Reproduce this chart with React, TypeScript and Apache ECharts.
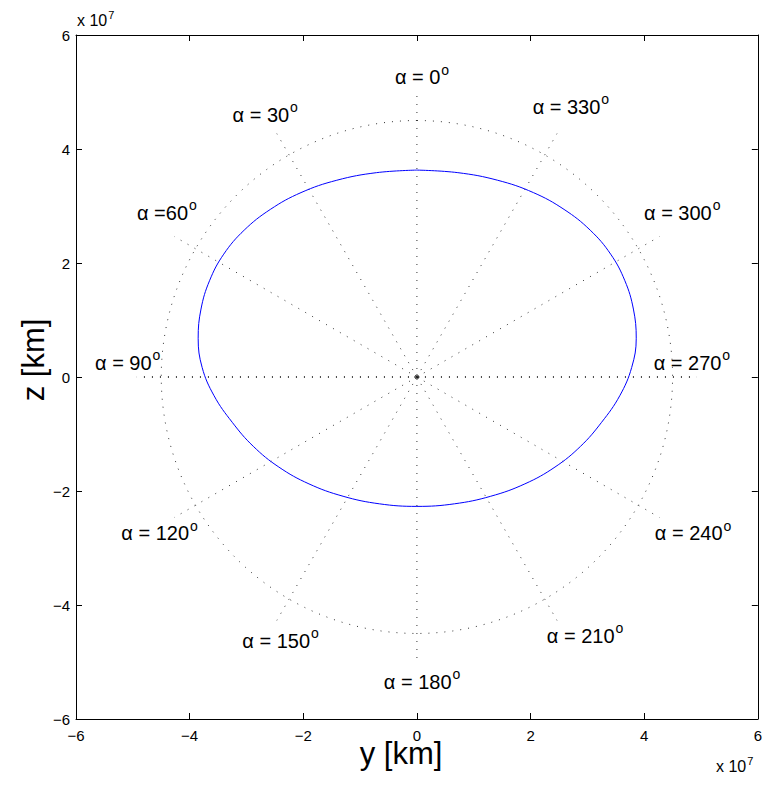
import React, { useEffect, useRef } from "react";
import * as echarts from "echarts";

// Orbit trace (units of 1e7 km) (right half, then left half)
const orbitRightY = [0, 0.72, 1.42, 2.05, 2.59, 3.05, 3.41, 3.66, 3.81, 3.86, 3.78, 3.57, 3.25, 2.88, 2.43, 1.9, 1.3, 0.66, 0];
const orbitRightZ = [3.63, 3.585, 3.452, 3.235, 2.94, 2.576, 2.155, 1.689, 1.192, 0.68, 0.168, -0.329, -0.795, -1.216, -1.58, -1.875, -2.092, -2.225, -2.27];
const orbitLeftY = [-0.66, -1.3, -1.9, -2.43, -2.88, -3.25, -3.57, -3.78, -3.85, -3.8, -3.65, -3.4, -3.04, -2.58, -2.04, -1.41, -0.71, 0];
const orbitLeftZ = [-2.225, -2.092, -1.875, -1.58, -1.216, -0.795, -0.329, 0.168, 0.68, 1.192, 1.689, 2.155, 2.576, 2.94, 3.235, 3.452, 3.585, 3.63];

// Reference circle and rays
const refRadius = 4.5;
const rayLength = 4.93;
const rayAngles = [0, 30, 60, 90, 120, 150, 180, 210, 240, 270, 300, 330];

// Angle labels
const labelText = ["α = 0", "α = 30", "α =60", "α = 90", "α = 120", "α = 150", "α = 180", "α = 210", "α = 240", "α = 270", "α = 300", "α = 330"];
const labelY = [0.09, -2.67, -4.4, -5.09, -4.53, -2.4, 0.09, 2.96, 4.86, 4.84, 4.67, 2.71];
const labelZ = [5.26, 4.6, 2.88, 0.25, -2.74, -4.63, -5.35, -4.54, -2.74, 0.25, 2.88, 4.74];

const axisMin = -6;
const axisMax = 6;
const axisStep = 2;

const FONT = "Liberation Sans, Arial, Helvetica, sans-serif";

export default function App() {
  const ref = useRef<HTMLDivElement>(null);
  useEffect(() => {
    if (!ref.current) return;
    const chart = echarts.init(ref.current, undefined, { renderer: "svg" });

    const circle: number[][] = [];
    for (let t = 0; t <= 360; t += 2) {
      const r = (t * Math.PI) / 180;
      circle.push([refRadius * Math.sin(r), refRadius * Math.cos(r)]);
    }

    const raySeries = rayAngles.map((a) => {
      const r = (a * Math.PI) / 180;
      const horiz = a === 90 || a === 270;
      return {
        type: "line",
        data: [
          [0, 0],
          [-rayLength * Math.sin(r), rayLength * Math.cos(r)],
        ],
        symbol: "none",
        silent: true,
        lineStyle: { color: horiz ? "#000" : "#333", width: horiz ? 1.4 : 1, type: [1, 7] },
      };
    });

    const orbit = [
      ...orbitRightY.map((y, i) => [y, orbitRightZ[i]]),
      ...orbitLeftY.map((y, i) => [y, orbitLeftZ[i]]),
    ];

    const fmt = (v: number) => String(v).replace("-", "\u2212");

    const axisCommon = {
      type: "value",
      min: axisMin,
      max: axisMax,
      interval: axisStep,
      splitLine: { show: false },
      axisLine: { show: true, onZero: false, lineStyle: { color: "#000", width: 1 } },
      axisTick: { show: true, inside: true, length: 6, lineStyle: { color: "#000" } },
    };

    const supText = (x: number, y: number) => ({
      type: "text",
      left: x,
      top: y,
      style: {
        text: "{a|x 10}{s|7}",
        rich: {
          a: { fontSize: 16, fontFamily: FONT, fill: "#000" },
          s: { fontSize: 11, fontFamily: FONT, fill: "#000", padding: [0, 0, 11, 1] },
        },
      },
    });

    chart.setOption({
      animation: false,
      backgroundColor: "#fff",
      grid: { left: 76, top: 35, width: 684, height: 684 },
      xAxis: [
        {
          ...axisCommon,
          position: "bottom",
          axisLabel: { fontSize: 15, color: "#000", fontFamily: FONT, margin: 9, formatter: fmt },
        },
        { ...axisCommon, position: "top", axisLabel: { show: false } },
      ],
      yAxis: [
        {
          ...axisCommon,
          position: "left",
          axisLabel: { fontSize: 15, color: "#000", fontFamily: FONT, margin: 6, formatter: fmt },
        },
        { ...axisCommon, position: "right", axisLabel: { show: false } },
      ],
      series: [
        {
          type: "line",
          data: circle,
          symbol: "none",
          silent: true,
          lineStyle: { color: "#333", width: 1, type: [1, 7] },
        },
        ...raySeries,
        {
          type: "scatter",
          data: [[0, 0]],
          symbol: "circle",
          symbolSize: 4,
          itemStyle: { color: "none", borderColor: "#000", borderWidth: 1, opacity: 1 },
        },
        {
          type: "line",
          data: orbit,
          symbol: "none",
          smooth: 0.4,
          lineStyle: { color: "#0000ff", width: 1 },
        },
        {
          type: "scatter",
          symbolSize: 0,
          silent: true,
          itemStyle: { opacity: 1 },
          data: labelY.map((y, i) => ({
            value: [y, labelZ[i]],
            label: {
              show: true,
              position: "inside",
              color: "#000",
              opacity: 1,
              textBorderWidth: 0,
              formatter: `{a|${labelText[i]}}{s|o}`,
              rich: {
                a: { fontSize: 20, fontFamily: FONT, color: "#000", lineHeight: 26, textBorderWidth: 0 },
                s: { fontSize: 14, fontFamily: FONT, color: "#000", padding: [0, 0, 15, 1], textBorderWidth: 0 },
              },
            },
          })),
        },
      ],
      graphic: [
        supText(77, 9),
        supText(716, 755),
        {
          type: "text",
          x: 401,
          y: 753,
          style: { text: "y [km]", fontSize: 31, lineHeight: 18, fontFamily: FONT, fill: "#000", align: "center", verticalAlign: "middle" },
        },
        {
          type: "text",
          x: 33,
          y: 360,
          rotation: Math.PI / 2,
          style: { text: "z [km]", fontSize: 31, fontFamily: FONT, fill: "#000", align: "center", verticalAlign: "middle" },
        },
      ],
    });
    return () => chart.dispose();
  }, []);
  return <div ref={ref} style={{ width: 765, height: 788, position: "absolute", left: 0, top: 0 }} />;
}
